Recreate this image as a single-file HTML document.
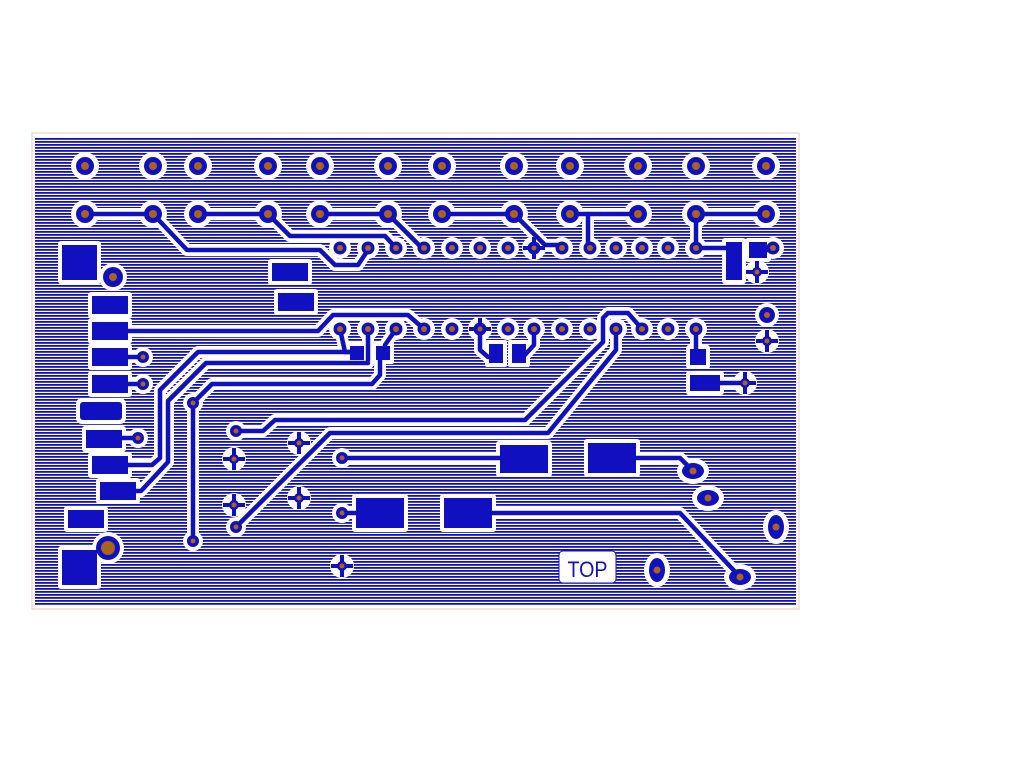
<!DOCTYPE html>
<html><head><meta charset="utf-8"><style>
html,body{margin:0;padding:0;background:#fff;width:1024px;height:768px;overflow:hidden}
svg{display:block}
</style></head><body>
<svg width="1024" height="768" viewBox="0 0 1024 768" xmlns="http://www.w3.org/2000/svg">
<defs>
<pattern id="h" width="8" height="3" patternUnits="userSpaceOnUse">
<rect width="8" height="3" fill="#fff"/><rect width="8" height="1.8" fill="#1010c0"/>
</pattern>
<g id="tr" fill="none" stroke-linejoin="round" stroke-linecap="round">
<path d="M85,214 H153"/>
<path d="M153,214 L187,250 H320 L335,265 H358 L368,250"/>
<path d="M198,214 H268 L290,236 H385 L396,248"/>
<path d="M320,214 H388 L420,246"/>
<path d="M442,214 H514 L545,245 H562"/>
<path d="M570,214 H638"/><path d="M588,214 V248"/>
<path d="M696,214 H766"/><path d="M696,214 V248 H733 V270"/>
<path d="M757,250 H773"/>
<path d="M128,331 H318 L333,315 H408 L424,329"/>
<path d="M340,329 L345,352 H358"/><path d="M368,329 V360"/><path d="M396,329 L385,345 V352"/>
<path d="M358,352 H198 L160,390 V458 L152,465 H128"/>
<path d="M368,363 H206 L168,401 V462 L141,491 H128"/>
<path d="M380,352 V375 L372,384 H212 L193,403 V541"/>
<path d="M110,357 H143"/><path d="M110,384 H143"/><path d="M110,438 H138"/>
<path d="M236,431 H263 L275,420 H525 L603,342 V318 L608,313 H628 L642,329"/>
<path d="M616,329 V350 L548,433 H330 L236,527"/>
<path d="M342,458 H520"/>
<path d="M612,458 H680 L693,471"/>
<path d="M468,513 H680 L740,577"/>
<path d="M342,513 H380"/>
<path d="M480,329 V350 L488,357 H497"/><path d="M534,329 V345 L523,357 H518"/>
<path d="M696,329 V358"/><path d="M697,383 H740"/>
</g>
</defs>
<rect x="32" y="133" width="767" height="476" fill="#fff" stroke="#e8c8c0" stroke-width="1"/>
<rect x="35" y="137" width="761" height="469" fill="url(#h)"/>

<g fill="#fff">
<use href="#tr" stroke="#fff" stroke-width="12"/>
<g>
<circle cx="85" cy="166" r="14"/><circle cx="153" cy="166" r="14"/><circle cx="198" cy="166" r="14"/><circle cx="268" cy="166" r="14"/><circle cx="320" cy="166" r="14"/><circle cx="388" cy="166" r="14"/><circle cx="442" cy="166" r="14"/><circle cx="514" cy="166" r="14"/><circle cx="570" cy="166" r="14"/><circle cx="638" cy="166" r="14"/><circle cx="696" cy="166" r="14"/><circle cx="766" cy="166" r="14"/>
<circle cx="85" cy="214" r="14"/><circle cx="153" cy="214" r="14"/><circle cx="198" cy="214" r="14"/><circle cx="268" cy="214" r="14"/><circle cx="320" cy="214" r="14"/><circle cx="388" cy="214" r="14"/><circle cx="442" cy="214" r="14"/><circle cx="514" cy="214" r="14"/><circle cx="570" cy="214" r="14"/><circle cx="638" cy="214" r="14"/><circle cx="696" cy="214" r="14"/><circle cx="766" cy="214" r="14"/>
</g>
<g>
<circle cx="340" cy="248" r="11"/><circle cx="368" cy="248" r="11"/><circle cx="396" cy="248" r="11"/><circle cx="424" cy="248" r="11"/><circle cx="452" cy="248" r="11"/><circle cx="480" cy="248" r="11"/><circle cx="508" cy="248" r="11"/><circle cx="534" cy="248" r="11"/><circle cx="562" cy="248" r="11"/><circle cx="590" cy="248" r="11"/><circle cx="616" cy="248" r="11"/><circle cx="642" cy="248" r="11"/><circle cx="668" cy="248" r="11"/><circle cx="696" cy="248" r="11"/>
<circle cx="340" cy="329" r="11"/><circle cx="368" cy="329" r="11"/><circle cx="396" cy="329" r="11"/><circle cx="424" cy="329" r="11"/><circle cx="452" cy="329" r="11"/><circle cx="480" cy="329" r="11"/><circle cx="508" cy="329" r="11"/><circle cx="534" cy="329" r="11"/><circle cx="562" cy="329" r="11"/><circle cx="590" cy="329" r="11"/><circle cx="616" cy="329" r="11"/><circle cx="642" cy="329" r="11"/><circle cx="668" cy="329" r="11"/><circle cx="696" cy="329" r="11"/>
<circle cx="773" cy="248" r="11"/><circle cx="767" cy="315" r="12"/>
<circle cx="143" cy="357" r="10"/><circle cx="143" cy="384" r="10"/><circle cx="138" cy="438" r="10"/>
<circle cx="193" cy="403" r="10"/><circle cx="193" cy="541" r="10"/><circle cx="236" cy="431" r="10"/><circle cx="236" cy="527" r="10"/><circle cx="342" cy="458" r="10"/><circle cx="342" cy="513" r="10"/>
<circle cx="534" cy="248" r="12"/><circle cx="480" cy="329" r="12"/><circle cx="299" cy="443" r="12"/><circle cx="234" cy="459" r="12"/><circle cx="299" cy="498" r="12"/><circle cx="234" cy="505" r="12"/><circle cx="342" cy="566" r="12"/><circle cx="757" cy="272" r="12"/><circle cx="767" cy="341" r="12"/><circle cx="745" cy="383" r="12"/>
<circle cx="113" cy="277" r="14"/><circle cx="108" cy="548" r="16"/>
<ellipse cx="693" cy="471" rx="16" ry="13"/><ellipse cx="708" cy="498" rx="16" ry="13"/><ellipse cx="776" cy="527" rx="13" ry="17"/><ellipse cx="657" cy="570" rx="13" ry="17"/><ellipse cx="740" cy="577" rx="16" ry="13"/>
</g>
<rect x="58" y="241" width="43" height="43" rx="3"/><rect x="58" y="546" width="43" height="43" rx="3"/>
<rect x="88" y="292" width="44" height="26" rx="3"/><rect x="88" y="318" width="44" height="26" rx="3"/><rect x="88" y="344" width="44" height="26" rx="3"/><rect x="88" y="371" width="44" height="26" rx="3"/><rect x="76" y="398" width="50" height="26" rx="6"/><rect x="82" y="426" width="44" height="26" rx="3"/><rect x="88" y="452" width="44" height="26" rx="3"/><rect x="96" y="478" width="44" height="26" rx="3"/><rect x="64" y="506" width="44" height="26" rx="3"/>
<rect x="268" y="259" width="44" height="26" rx="3"/><rect x="274" y="289" width="44" height="26" rx="3"/>
<rect x="496" y="441" width="56" height="36" rx="3"/><rect x="584" y="439" width="56" height="38" rx="3"/><rect x="352" y="494" width="56" height="38" rx="3"/><rect x="440" y="494" width="56" height="38" rx="3"/>
<rect x="722" y="238" width="24" height="46" rx="3"/><rect x="745" y="238" width="26" height="24" rx="3"/>
<rect x="686" y="345" width="24" height="24" rx="3"/><rect x="686" y="371" width="38" height="24" rx="3"/>
<rect x="346" y="342" width="22" height="22" rx="2"/><rect x="372" y="342" width="22" height="22" rx="2"/>
<rect x="485" y="340" width="22" height="27" rx="2"/><rect x="508" y="340" width="22" height="27" rx="2"/>
<rect x="559" y="551" width="57" height="32" rx="4" stroke="#1010c0" stroke-width="1"/>
</g>

<use href="#tr" stroke="#1010c0" stroke-width="4.5"/>
<g fill="#1010c0">
<g>
<circle cx="85" cy="166" r="9"/><circle cx="153" cy="166" r="9"/><circle cx="198" cy="166" r="9"/><circle cx="268" cy="166" r="9"/><circle cx="320" cy="166" r="9"/><circle cx="388" cy="166" r="9"/><circle cx="442" cy="166" r="9"/><circle cx="514" cy="166" r="9"/><circle cx="570" cy="166" r="9"/><circle cx="638" cy="166" r="9"/><circle cx="696" cy="166" r="9"/><circle cx="766" cy="166" r="9"/>
<circle cx="85" cy="214" r="9"/><circle cx="153" cy="214" r="9"/><circle cx="198" cy="214" r="9"/><circle cx="268" cy="214" r="9"/><circle cx="320" cy="214" r="9"/><circle cx="388" cy="214" r="9"/><circle cx="442" cy="214" r="9"/><circle cx="514" cy="214" r="9"/><circle cx="570" cy="214" r="9"/><circle cx="638" cy="214" r="9"/><circle cx="696" cy="214" r="9"/><circle cx="766" cy="214" r="9"/>
<circle cx="340" cy="248" r="6.5"/><circle cx="368" cy="248" r="6.5"/><circle cx="396" cy="248" r="6.5"/><circle cx="424" cy="248" r="6.5"/><circle cx="452" cy="248" r="6.5"/><circle cx="480" cy="248" r="6.5"/><circle cx="508" cy="248" r="6.5"/><circle cx="534" cy="248" r="6.5"/><circle cx="562" cy="248" r="6.5"/><circle cx="590" cy="248" r="6.5"/><circle cx="616" cy="248" r="6.5"/><circle cx="642" cy="248" r="6.5"/><circle cx="668" cy="248" r="6.5"/><circle cx="696" cy="248" r="6.5"/>
<circle cx="340" cy="329" r="6.5"/><circle cx="368" cy="329" r="6.5"/><circle cx="396" cy="329" r="6.5"/><circle cx="424" cy="329" r="6.5"/><circle cx="452" cy="329" r="6.5"/><circle cx="480" cy="329" r="6.5"/><circle cx="508" cy="329" r="6.5"/><circle cx="534" cy="329" r="6.5"/><circle cx="562" cy="329" r="6.5"/><circle cx="590" cy="329" r="6.5"/><circle cx="616" cy="329" r="6.5"/><circle cx="642" cy="329" r="6.5"/><circle cx="668" cy="329" r="6.5"/><circle cx="696" cy="329" r="6.5"/>
<circle cx="773" cy="248" r="6.5"/><circle cx="767" cy="315" r="8"/>
<circle cx="143" cy="357" r="6"/><circle cx="143" cy="384" r="6"/><circle cx="138" cy="438" r="6"/>
<circle cx="193" cy="403" r="6"/><circle cx="193" cy="541" r="6"/><circle cx="236" cy="431" r="6"/><circle cx="236" cy="527" r="6"/><circle cx="342" cy="458" r="6"/><circle cx="342" cy="513" r="6"/>
<circle cx="113" cy="277" r="10"/><circle cx="108" cy="548" r="12"/>
<ellipse cx="693" cy="471" rx="11" ry="8"/><ellipse cx="708" cy="498" rx="11" ry="8"/><ellipse cx="776" cy="527" rx="8" ry="12"/><ellipse cx="657" cy="570" rx="8" ry="12"/><ellipse cx="740" cy="577" rx="11" ry="8"/>
</g>
<g>
<path d="M534,237 V259 M523,248 H545" stroke="#1010c0" stroke-width="4"/>
<path d="M480,318 V340 M469,329 H491" stroke="#1010c0" stroke-width="4"/>
<path d="M299,432 V454 M288,443 H310" stroke="#1010c0" stroke-width="4"/>
<path d="M234,448 V470 M223,459 H245" stroke="#1010c0" stroke-width="4"/>
<path d="M299,487 V509 M288,498 H310" stroke="#1010c0" stroke-width="4"/>
<path d="M234,494 V516 M223,505 H245" stroke="#1010c0" stroke-width="4"/>
<path d="M342,555 V577 M331,566 H353" stroke="#1010c0" stroke-width="4"/>
<path d="M757,261 V283 M746,272 H768" stroke="#1010c0" stroke-width="4"/>
<path d="M767,330 V352 M756,341 H778" stroke="#1010c0" stroke-width="4"/>
<path d="M745,372 V394 M734,383 H756" stroke="#1010c0" stroke-width="4"/>
<circle cx="534" cy="248" r="5"/><circle cx="480" cy="329" r="5"/><circle cx="299" cy="443" r="5"/><circle cx="234" cy="459" r="5"/><circle cx="299" cy="498" r="5"/><circle cx="234" cy="505" r="5"/><circle cx="342" cy="566" r="5"/><circle cx="757" cy="272" r="5"/><circle cx="767" cy="341" r="5"/><circle cx="745" cy="383" r="5"/>
</g>
<rect x="62" y="245" width="35" height="35"/><rect x="62" y="550" width="35" height="35"/>
<rect x="92" y="296" width="36" height="18"/><rect x="92" y="322" width="36" height="18"/><rect x="92" y="348" width="36" height="18"/><rect x="92" y="375" width="36" height="18"/><rect x="80" y="402" width="42" height="18" rx="3"/><rect x="86" y="430" width="36" height="18"/><rect x="92" y="456" width="36" height="18"/><rect x="100" y="482" width="36" height="18"/><rect x="68" y="510" width="36" height="18"/>
<rect x="272" y="263" width="36" height="18"/><rect x="278" y="293" width="36" height="18"/>
<rect x="500" y="445" width="48" height="28"/><rect x="588" y="443" width="48" height="30"/><rect x="356" y="498" width="48" height="30"/><rect x="444" y="498" width="48" height="30"/>
<rect x="726" y="242" width="16" height="38"/><rect x="749" y="242" width="18" height="16"/>
<rect x="690" y="349" width="16" height="16"/><rect x="690" y="375" width="30" height="16"/>
<rect x="350" y="346" width="14" height="14"/><rect x="376" y="346" width="14" height="14"/>
<rect x="489" y="344" width="14" height="19"/><rect x="512" y="344" width="14" height="19"/>
</g>
<g fill="#a8641a">
<circle cx="85" cy="166" r="4"/><circle cx="153" cy="166" r="4"/><circle cx="198" cy="166" r="4"/><circle cx="268" cy="166" r="4"/><circle cx="320" cy="166" r="4"/><circle cx="388" cy="166" r="4"/><circle cx="442" cy="166" r="4"/><circle cx="514" cy="166" r="4"/><circle cx="570" cy="166" r="4"/><circle cx="638" cy="166" r="4"/><circle cx="696" cy="166" r="4"/><circle cx="766" cy="166" r="4"/>
<circle cx="85" cy="214" r="4"/><circle cx="153" cy="214" r="4"/><circle cx="198" cy="214" r="4"/><circle cx="268" cy="214" r="4"/><circle cx="320" cy="214" r="4"/><circle cx="388" cy="214" r="4"/><circle cx="442" cy="214" r="4"/><circle cx="514" cy="214" r="4"/><circle cx="570" cy="214" r="4"/><circle cx="638" cy="214" r="4"/><circle cx="696" cy="214" r="4"/><circle cx="766" cy="214" r="4"/>
<circle cx="340" cy="248" r="3"/><circle cx="368" cy="248" r="3"/><circle cx="396" cy="248" r="3"/><circle cx="424" cy="248" r="3"/><circle cx="452" cy="248" r="3"/><circle cx="480" cy="248" r="3"/><circle cx="508" cy="248" r="3"/><circle cx="534" cy="248" r="2.5"/><circle cx="562" cy="248" r="3"/><circle cx="590" cy="248" r="3"/><circle cx="616" cy="248" r="3"/><circle cx="642" cy="248" r="3"/><circle cx="668" cy="248" r="3"/><circle cx="696" cy="248" r="3"/>
<circle cx="340" cy="329" r="3"/><circle cx="368" cy="329" r="3"/><circle cx="396" cy="329" r="3"/><circle cx="424" cy="329" r="3"/><circle cx="452" cy="329" r="3"/><circle cx="480" cy="329" r="2.5"/><circle cx="508" cy="329" r="3"/><circle cx="534" cy="329" r="3"/><circle cx="562" cy="329" r="3"/><circle cx="590" cy="329" r="3"/><circle cx="616" cy="329" r="3"/><circle cx="642" cy="329" r="3"/><circle cx="668" cy="329" r="3"/><circle cx="696" cy="329" r="3"/>
<circle cx="773" cy="248" r="3"/><circle cx="767" cy="315" r="3"/>
<circle cx="143" cy="357" r="2.5"/><circle cx="143" cy="384" r="2.5"/><circle cx="138" cy="438" r="2.5"/><circle cx="193" cy="403" r="2.5"/><circle cx="193" cy="541" r="2.5"/><circle cx="236" cy="431" r="2.5"/><circle cx="236" cy="527" r="2.5"/><circle cx="342" cy="458" r="2.5"/><circle cx="342" cy="513" r="2.5"/>
<circle cx="299" cy="443" r="2.5"/><circle cx="234" cy="459" r="2.5"/><circle cx="299" cy="498" r="2.5"/><circle cx="234" cy="505" r="2.5"/><circle cx="342" cy="566" r="2.5"/><circle cx="757" cy="272" r="2.5"/><circle cx="767" cy="341" r="2.5"/><circle cx="745" cy="383" r="2.5"/>
<circle cx="113" cy="277" r="4"/><circle cx="108" cy="548" r="7"/>
<circle cx="693" cy="471" r="3.5"/><circle cx="708" cy="498" r="3.5"/><circle cx="776" cy="527" r="3.5"/><circle cx="657" cy="570" r="3.5"/><circle cx="740" cy="577" r="3.5"/>
</g>
<text x="587.5" y="577" text-anchor="middle" font-family="Liberation Sans, sans-serif" font-size="22" fill="#1010c0" textLength="40" lengthAdjust="spacingAndGlyphs">TOP</text>
</svg>
</body></html>
